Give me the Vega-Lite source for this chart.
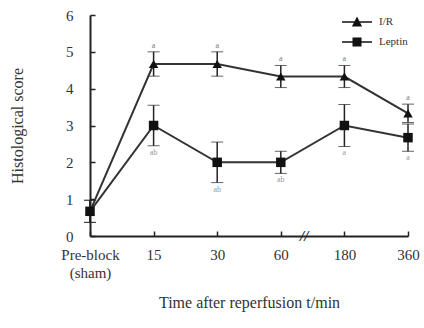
{
  "$schema": "https://vega.github.io/schema/vega-lite/v6.json",
  "width": 318,
  "height": 221,
  "autosize": "none",
  "padding": {"left": 90, "top": 15, "right": 16, "bottom": 92},
  "background": "white",
  "config": {
    "font": "Liberation Serif",
    "view": {"stroke": null},
    "axis": {"grid": false, "domainColor": "#222", "tickColor": "#222", "labelColor": "#333", "titleColor": "#333", "labelFont": "Liberation Serif", "titleFont": "Liberation Serif", "titleFontWeight": "normal"}
  },
  "datasets": {
    "series": [
      {"t": 0, "group": "I/R", "mean": 0.67, "lo": 0.37, "hi": 0.97, "mark": ""},
      {"t": 1, "group": "I/R", "mean": 4.67, "lo": 4.34, "hi": 5.0, "mark": "a"},
      {"t": 2, "group": "I/R", "mean": 4.67, "lo": 4.34, "hi": 5.0, "mark": "a"},
      {"t": 3, "group": "I/R", "mean": 4.33, "lo": 4.03, "hi": 4.63, "mark": "a"},
      {"t": 4, "group": "I/R", "mean": 4.33, "lo": 4.03, "hi": 4.63, "mark": "a"},
      {"t": 5, "group": "I/R", "mean": 3.33, "lo": 3.08, "hi": 3.58, "mark": "a"},
      {"t": 0, "group": "Leptin", "mean": 0.67, "lo": 0.37, "hi": 0.97, "mark": ""},
      {"t": 1, "group": "Leptin", "mean": 3.0, "lo": 2.45, "hi": 3.55, "mark": "ab"},
      {"t": 2, "group": "Leptin", "mean": 2.0, "lo": 1.45, "hi": 2.55, "mark": "ab"},
      {"t": 3, "group": "Leptin", "mean": 2.0, "lo": 1.7, "hi": 2.3, "mark": "ab"},
      {"t": 4, "group": "Leptin", "mean": 3.0, "lo": 2.43, "hi": 3.57, "mark": "a"},
      {"t": 5, "group": "Leptin", "mean": 2.67, "lo": 2.3, "hi": 3.04, "mark": "a"}
    ],
    "brk": [{"t": 3.4, "v": 0, "label": "//"}]
  },
  "encoding": {
    "x": {
      "field": "t", "type": "quantitative",
      "scale": {"domain": [0, 5], "nice": false, "zero": false},
      "axis": {
        "values": [0, 1, 2, 3, 4, 5],
        "labelExpr": "datum.value == 0 ? ['Pre-block', '(sham)'] : datum.value == 1 ? '15' : datum.value == 2 ? '30' : datum.value == 3 ? '60' : datum.value == 4 ? '180' : '360'",
        "title": "Time after reperfusion t/min",
        "titleFontSize": 16, "titlePadding": 14, "titleFont": "Liberation Serif",
        "labelFont": "Liberation Serif",
        "labelFontSize": 15, "labelPadding": 16, "labelLineHeight": 18,
        "tickSize": -5, "tickWidth": 1.5, "domainWidth": 2, "labelFlush": false
      }
    },
    "y": {
      "field": "mean", "type": "quantitative",
      "scale": {"domain": [0, 6], "nice": false},
      "axis": {
        "values": [0, 1, 2, 3, 4, 5, 6],
        "title": "Histological score", "titleFont": "Liberation Serif",
        "labelFont": "Liberation Serif",
        "titleFontSize": 16, "titlePadding": 40,
        "labelFontSize": 15, "labelPadding": 22,
        "tickSize": -5, "tickWidth": 1.5, "domainWidth": 2
      }
    }
  },
  "resolve": {"scale": {"shape": "independent"}},
  "layer": [
    {
      "data": {"name": "series"},
      "mark": {"type": "errorbar", "ticks": {"size": 12, "strokeWidth": 1.5, "color": "#222"}, "rule": {"strokeWidth": 1.5, "color": "#222"}},
      "encoding": {
        "y": {"field": "lo", "type": "quantitative"},
        "y2": {"field": "hi"},
        "detail": {"field": "group"}
      }
    },
    {
      "data": {"name": "series"},
      "mark": {"type": "line", "color": "#333", "strokeWidth": 2},
      "encoding": {"detail": {"field": "group"}}
    },
    {
      "data": {"name": "series"},
      "mark": {"type": "point", "filled": true, "color": "#111", "size": 90, "opacity": 1},
      "encoding": {
        "shape": {
          "field": "group", "type": "nominal",
          "scale": {"domain": ["I/R", "Leptin"], "range": ["triangle-up", "square"]},
          "legend": null
        }
      }
    },
    {
      "data": {"name": "series"},
      "mark": {"type": "point", "filled": false, "fill": "#111", "stroke": "#333", "strokeWidth": 1.5, "size": 900, "opacity": 0},
      "encoding": {
        "shape": {
          "field": "group", "type": "nominal",
          "scale": {"domain": ["I/R", "Leptin"], "range": ["M-1,-0.05H1V0.05H-1Z M-0.34,0.3L0,-0.36L0.34,0.3Z", "M-1,-0.05H1V0.05H-1Z M-0.3,-0.3H0.3V0.3H-0.3Z"]},
          "legend": {
            "title": null, "orient": "top-right", "offset": 0,
            "labelFontSize": 11, "labelFont": "Liberation Serif", "labelColor": "#333",
            "symbolFillColor": "#111", "symbolStrokeColor": "#333", "symbolStrokeWidth": 1.5,
            "symbolOpacity": 1, "symbolSize": 900, "rowPadding": 6, "labelOffset": 6, "clipHeight": 14
          }
        }
      }
    },
    {
      "data": {"name": "series"},
      "transform": [{"filter": "datum.group == 'I/R'"}],
      "mark": {"type": "text", "fontSize": 8, "color": "#777", "dy": -6},
      "encoding": {"y": {"field": "hi", "type": "quantitative"}, "text": {"field": "mark"}}
    },
    {
      "data": {"name": "series"},
      "transform": [{"filter": "datum.group == 'Leptin'"}],
      "mark": {"type": "text", "fontSize": 8, "color": "#999", "dy": 7},
      "encoding": {"y": {"field": "lo", "type": "quantitative"}, "text": {"field": "mark"}}
    },
    {
      "data": {"name": "brk"},
      "mark": {"type": "text", "fontSize": 15, "fontWeight": "bold", "color": "#222", "fontStyle": "italic", "dx": -2},
      "encoding": {"y": {"field": "v", "type": "quantitative"}, "text": {"field": "label"}}
    }
  ]
}
